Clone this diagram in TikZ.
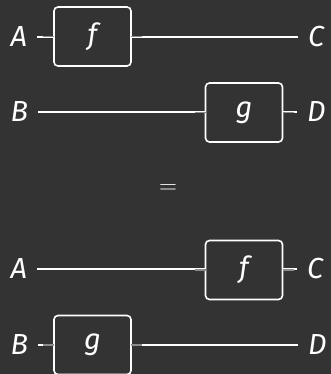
\documentclass[tikz,border=0pt]{standalone}
\usepackage{fontspec}
\setmainfont{Fira Sans}
\begin{document}
\begin{tikzpicture}[x=1pt,y=-1pt,
  lbl/.style={inner xsep=10pt,inner ysep=0pt,outer sep=0pt,font=\fontsize{29}{32}\selectfont\itshape,text=white},
  morph/.style={draw=white,line width=1.6pt,rounded corners=4pt,minimum width=77pt,minimum height=59pt,inner sep=0pt,outer sep=0pt,font=\fontsize{29}{32}\selectfont\itshape,text=white},
  wire/.style={draw=white,line width=1.6pt},
  stub/.style={draw=gray!90!white,line width=1.6pt}]
\fill[fill={rgb,255:red,51;green,51;blue,51}] (0,0) rectangle (331,374);
\useasboundingbox (0,0) rectangle (331,374);
% top
\node[morph] (f1) at (92.5,36.5) {f};
\node[morph] (g1) at (244,112.5) {g};
\node[lbl,anchor=east] (A1) at (37,37) {A};
\node[lbl,anchor=west] (C1) at (298,37) {C};
\node[lbl,anchor=east] (B1) at (38,112) {B};
\node[lbl,anchor=west] (D1) at (297,112) {D};
\draw[wire] (A1.east) -- (A1.east -| f1.west);
\draw[wire] (f1.east |- C1.west) -- (C1.west);
\draw[wire] (B1.east) -- (B1.east -| g1.west);
\draw[wire] (g1.east |- D1.west) -- (D1.west);
\draw[stub] (f1.west) -- ++(-11,0);
\draw[stub] (f1.east) -- ++(11,0);
\draw[stub] (g1.west) -- ++(-11,0);
\draw[stub] (g1.east) -- ++(11,0);
% equals
\node[inner sep=0pt,text=white,font=\fontsize{26}{30}\selectfont] (eq) at (168,189) {$=$};
% bottom
\node[morph] (f2) at (244,270) {f};
\node[morph] (g2) at (92.5,345) {g};
\node[lbl,anchor=east] (A2) at (37,269) {A};
\node[lbl,anchor=west] (C2) at (297,269) {C};
\node[lbl,anchor=east] (B2) at (38,345) {B};
\node[lbl,anchor=west] (D2) at (298,345) {D};
\draw[wire] (A2.east) -- (A2.east -| f2.west);
\draw[wire] (f2.east |- C2.west) -- (C2.west);
\draw[wire] (B2.east) -- (B2.east -| g2.west);
\draw[wire] (g2.east |- D2.west) -- (D2.west);
\draw[stub] (f2.west) -- ++(-11,0);
\draw[stub] (f2.east) -- ++(11,0);
\draw[stub] (g2.west) -- ++(-11,0);
\draw[stub] (g2.east) -- ++(11,0);
\end{tikzpicture}
\end{document}
